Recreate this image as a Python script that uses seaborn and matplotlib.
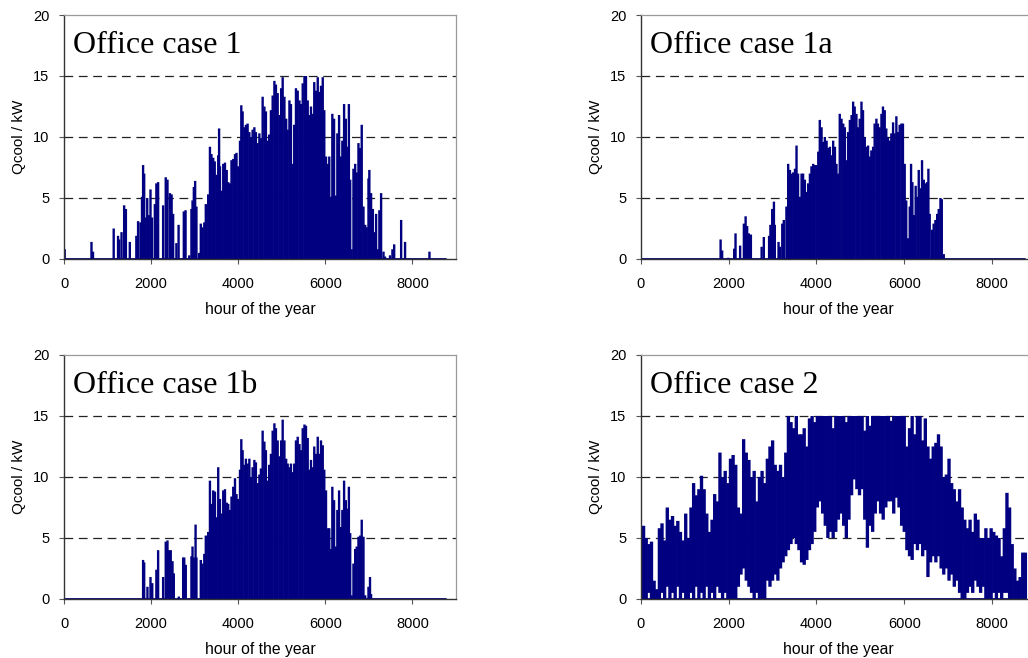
# Cooling load over the year for four office cases

import numpy as np
import matplotlib
matplotlib.use("Agg")
import matplotlib.pyplot as plt
import seaborn as sns

# --- data (hour of year, cooling load in kW) ---

hours_1 = [0, 15, 630, 665, 1140, 1240, 1265, 1320, 1380, 1420, 1510, 1660, 1700, 1755,
           1790, 1815, 1840, 1870, 1910, 1945, 1985, 2020, 2085, 2120, 2160, 2275, 2335,
           2375, 2430, 2470, 2505, 2580, 2630, 2750, 2790, 2875, 2925, 2950, 2980, 3010,
           3040, 3100, 3140, 3180, 3220, 3255, 3310, 3350, 3385, 3425, 3460, 3500, 3540,
           3560, 3580, 3615, 3655, 3695, 3735, 3770, 3810, 3845, 3885, 3925, 3960, 4000,
           4040, 4070, 4100, 4140, 4175, 4215, 4255, 4290, 4330, 4370, 4405, 4445, 4485,
           4520, 4560, 4600, 4635, 4675, 4710, 4750, 4790, 4830, 4865, 4905, 4945, 4985,
           5020, 5060, 5100, 5135, 5175, 5210, 5250, 5285, 5325, 5365, 5405, 5440, 5480,
           5520, 5555, 5595, 5630, 5670, 5710, 5745, 5785, 5825, 5860, 5900, 5940, 5975,
           6015, 6055, 6090, 6130, 6160, 6200, 6240, 6275, 6315, 6355, 6390, 6430, 6470,
           6505, 6540, 6570, 6605, 6645, 6685, 6720, 6760, 6800, 6835, 6875, 6915, 6950,
           6990, 7010, 7050, 7090, 7125, 7165, 7205, 7240, 7280, 7335, 7370, 7485, 7540,
           7580, 7740, 7830, 8390, 8760]
peak_1 = [0.0, 0.8, 1.4, 0.6, 2.5, 1.9, 1.6, 2.2, 4.4, 4.1, 1.4, 1.9, 3.1, 3.0,
          5.1, 7.7, 7.0, 3.4, 5.0, 3.6, 5.7, 3.4, 4.5, 6.2, 6.3, 4.4, 6.7,
          6.5, 5.4, 5.3, 3.7, 1.3, 2.8, 3.9, 4.0, 0.3, 4.1, 4.8, 5.9, 6.4,
          4.3, 0.5, 2.9, 2.6, 3.0, 4.5, 5.3, 9.2, 8.6, 8.3, 8.0, 6.9, 8.5,
          10.7, 7.6, 5.6, 7.8, 7.9, 7.3, 6.3, 6.2, 8.1, 8.2, 8.6, 8.7, 7.6,
          9.7, 12.6, 12.1, 10.8, 11.0, 11.1, 10.4, 10.0, 10.6, 10.8, 10.4, 9.5, 10.3,
          9.9, 13.3, 12.5, 12.1, 9.7, 10.2, 12.2, 13.4, 14.6, 14.3, 13.6, 11.8, 14.0,
          14.9, 13.3, 11.5, 10.6, 13.0, 12.7, 7.8, 11.0, 14.0, 13.8, 13.0, 12.7, 14.4,
          15.0, 15.0, 13.0, 11.8, 12.5, 11.9, 14.5, 13.8, 14.9, 13.7, 14.2, 14.9, 12.2,
          8.4, 7.8, 8.4, 5.1, 11.9, 11.5, 5.2, 10.3, 11.8, 8.4, 9.7, 12.7, 11.5,
          9.2, 12.7, 6.5, 0.8, 7.4, 7.8, 7.1, 9.5, 9.1, 11.0, 4.3, 2.8, 2.6,
          6.6, 7.3, 5.4, 4.1, 2.2, 3.7, 0.8, 4.0, 5.4, 0.6, 0.2, 0.3, 0.8,
          1.2, 3.2, 1.4, 0.6, 0.0]

hours_1a = [0, 1815, 1850, 1990, 2125, 2155, 2260, 2345, 2385, 2420, 2460, 2505, 2750,
            2800, 2920, 2950, 2990, 3030, 3050, 3135, 3165, 3220, 3255, 3315, 3355, 3395,
            3430, 3470, 3510, 3545, 3580, 3620, 3660, 3695, 3735, 3775, 3810, 3850, 3885,
            3925, 3960, 4000, 4040, 4075, 4115, 4150, 4190, 4230, 4265, 4305, 4340, 4380,
            4420, 4455, 4495, 4530, 4570, 4610, 4645, 4685, 4720, 4760, 4800, 4835, 4870,
            4910, 4950, 4985, 5025, 5060, 5100, 5140, 5175, 5215, 5250, 5290, 5325, 5365,
            5400, 5440, 5480, 5515, 5555, 5590, 5630, 5670, 5705, 5745, 5780, 5820, 5860,
            5895, 5935, 5970, 6010, 6045, 6085, 6125, 6155, 6185, 6225, 6260, 6300, 6330,
            6370, 6405, 6445, 6480, 6520, 6550, 6580, 6635, 6670, 6710, 6750, 6785, 6825,
            6855, 6900, 8760]
peak_1a = [0.0, 1.6, 0.7, 0.1, 0.85, 2.1, 1.1, 2.9, 3.5, 2.7, 2.1, 2.0, 1.0,
           1.8, 1.9, 2.8, 4.1, 4.7, 2.8, 1.4, 1.0, 2.9, 3.2, 4.3, 7.8, 7.3,
           7.0, 7.1, 7.4, 9.3, 7.0, 5.1, 7.0, 7.0, 6.5, 5.5, 6.2, 7.0, 7.6,
           7.8, 7.7, 7.7, 8.8, 11.4, 10.8, 9.6, 10.0, 9.7, 9.1, 9.2, 8.5, 9.7,
           9.2, 7.8, 7.0, 11.9, 11.5, 11.1, 10.8, 8.1, 10.4, 11.4, 11.8, 12.9, 12.5,
           11.9, 10.8, 11.5, 12.9, 12.2, 10.0, 9.2, 9.3, 8.4, 8.9, 9.2, 11.1, 11.5,
           11.1, 10.8, 11.9, 12.5, 12.2, 10.7, 10.0, 9.7, 10.3, 11.2, 10.3, 11.7, 10.4,
           11.0, 11.1, 11.1, 7.8, 4.8, 1.7, 4.3, 7.8, 6.3, 3.6, 6.0, 5.1, 7.3,
           5.8, 8.1, 6.5, 6.2, 6.3, 7.4, 3.7, 2.4, 2.9, 3.2, 3.7, 4.1, 5.0,
           4.9, 0.4, 0.0]

hours_1b = [0, 1815, 1840, 1915, 1985, 2025, 2120, 2160, 2275, 2335, 2375, 2415, 2450,
            2490, 2520, 2635, 2735, 2760, 2795, 2925, 2950, 2990, 3020, 3040, 3140, 3180,
            3220, 3255, 3310, 3350, 3385, 3425, 3465, 3500, 3540, 3580, 3615, 3655, 3695,
            3735, 3770, 3810, 3845, 3885, 3925, 3960, 4000, 4040, 4070, 4100, 4140, 4175,
            4215, 4255, 4290, 4330, 4370, 4405, 4445, 4485, 4520, 4560, 4600, 4635, 4675,
            4710, 4750, 4790, 4830, 4865, 4905, 4945, 4985, 5020, 5060, 5100, 5135, 5175,
            5210, 5250, 5285, 5325, 5365, 5405, 5440, 5480, 5520, 5555, 5595, 5630, 5670,
            5710, 5745, 5785, 5825, 5860, 5900, 5940, 5975, 6015, 6055, 6090, 6130, 6160,
            6200, 6240, 6275, 6315, 6355, 6390, 6430, 6470, 6505, 6540, 6570, 6605, 6645,
            6685, 6720, 6760, 6800, 6835, 6875, 6915, 6990, 7025, 7050, 8760]
peak_1b = [0.0, 3.2, 3.0, 1.0, 1.8, 1.3, 2.4, 4.0, 1.8, 4.7, 4.8, 4.0, 4.0,
           3.1, 2.1, 0.2, 3.4, 3.4, 2.8, 3.5, 4.3, 3.4, 6.1, 3.4, 3.2, 2.9,
           3.7, 5.2, 5.5, 9.7, 7.8, 8.9, 8.8, 6.7, 10.8, 8.2, 7.0, 8.9, 9.0,
           7.9, 7.8, 7.3, 8.4, 9.2, 9.9, 8.6, 8.2, 10.6, 13.1, 12.2, 11.0, 11.5,
           11.1, 11.5, 10.0, 10.8, 11.4, 11.2, 9.5, 10.2, 10.7, 13.8, 12.9, 12.2, 9.7,
           11.0, 11.9, 13.8, 14.4, 14.0, 13.0, 11.7, 13.0, 14.7, 13.0, 11.5, 11.1, 10.8,
           11.1, 10.4, 11.1, 13.0, 13.3, 12.7, 12.2, 14.0, 14.3, 14.2, 13.2, 10.6, 11.4,
           10.8, 12.5, 11.9, 13.3, 11.9, 13.0, 12.6, 10.6, 8.9, 5.8, 5.8, 4.1, 9.2,
           8.1, 4.3, 7.3, 8.9, 5.9, 7.3, 9.7, 8.1, 7.4, 9.2, 5.4, 0.3, 2.9,
           4.1, 4.3, 5.1, 5.2, 6.5, 5.1, 0.3, 1.0, 1.8, 0.4, 0.0]

# case 2 never switches off: daily band between a low and a high value, read every 60 h
hours_2 = np.arange(0, 8761, 60)
high_2 = [3.3, 6.0, 5.0, 4.5, 4.7, 1.5, 0.8, 5.8, 6.2, 4.8,
          7.5, 6.5, 6.8, 6.0, 6.4, 5.5, 4.8, 7.0, 5.0, 7.5,
          9.5, 8.5, 9.0, 10.1, 9.0, 7.0, 5.5, 6.5, 8.6, 8.0,
          12.0, 10.0, 10.5, 9.5, 11.5, 11.8, 11.0, 7.5, 7.0, 13.1,
          12.0, 11.4, 10.0, 10.5, 8.0, 10.0, 10.5, 9.5, 11.5, 12.5,
          13.0, 11.0, 10.5, 11.0, 10.0, 12.0, 15.0, 14.5, 14.0, 15.0,
          13.5, 13.5, 14.0, 12.5, 14.8, 15.0, 14.5, 15.0, 15.0, 15.0,
          15.0, 15.0, 15.0, 14.0, 15.0, 15.0, 15.0, 15.0, 14.5, 15.0,
          15.0, 15.0, 15.0, 15.0, 15.0, 13.8, 15.0, 14.2, 15.0, 15.0,
          15.0, 15.0, 15.0, 15.0, 15.0, 14.6, 15.0, 15.0, 15.0, 15.0,
          15.0, 12.5, 14.0, 15.0, 13.5, 15.0, 15.0, 13.0, 14.8, 12.5,
          11.5, 12.5, 12.8, 13.5, 12.5, 10.0, 10.2, 11.5, 9.5, 9.0,
          8.0, 9.0, 7.5, 6.5, 5.8, 6.5, 5.5, 7.0, 6.5, 5.0,
          5.0, 5.8, 5.0, 5.8, 5.5, 5.2, 5.0, 3.5, 5.8, 8.7,
          7.5, 4.5, 2.5, 1.5, 1.8, 3.8, 3.8]
low_2 = [0.0, 0.0, 0.0, 0.5, 0.0, 0.0, 0.0, 0.0, 0.5, 0.0,
         1.0, 0.0, 0.5, 0.0, 1.0, 0.0, 0.5, 0.0, 0.0, 0.5,
         0.0, 1.0, 0.0, 0.5, 0.0, 1.0, 0.0, 0.5, 0.0, 1.0,
         0.5, 0.0, 0.5, 0.0, 0.0, 0.0, 0.0, 1.0, 2.0, 2.5,
         1.5, 1.0, 0.5, 0.0, 0.5, 0.0, 0.0, 0.0, 1.5, 1.0,
         1.5, 2.0, 1.5, 2.5, 3.0, 3.5, 4.0, 4.5, 5.0, 4.5,
         4.0, 3.0, 2.8, 3.2, 4.0, 4.5, 5.5, 7.5, 8.0, 7.0,
         6.0, 5.0, 5.5, 5.0, 5.5, 6.5, 7.0, 6.0, 5.0, 6.5,
         8.5, 9.8, 9.0, 8.5, 9.0, 6.5, 4.2, 6.0, 5.5, 7.0,
         8.0, 7.0, 6.5, 7.5, 8.0, 8.0, 7.0, 8.3, 7.5, 6.0,
         5.5, 4.0, 3.5, 3.2, 4.5, 4.0, 4.5, 3.5, 4.0, 1.8,
         3.0, 3.5, 3.0, 3.5, 2.5, 2.0, 2.5, 1.5, 2.0, 1.0,
         1.5, 0.5, 0.0, 0.0, 0.5, 1.0, 0.5, 1.5, 1.0, 0.5,
         1.0, 0.0, 0.0, 0.0, 0.5, 0.0, 0.5, 0.0, 0.5, 0.5,
         0.0, 0.0, 0.0, 0.0, 0.0, 0.0, 0.0]

titles = ["Office case 1", "Office case 1a", "Office case 1b", "Office case 2"]

LINE = "#000080"

sns.set_theme(style="white")
plt.rcParams["font.family"] = ["Liberation Sans", "DejaVu Sans"]

fig = plt.figure(figsize=(10.28, 6.58), dpi=100)

# panel positions (right column runs a bit past the figure edge, as in the source)
positions = [
    [0.0623, 0.6064, 0.3813, 0.3708],
    [0.6235, 0.6064, 0.3842, 0.3708],
    [0.0623, 0.0897, 0.3813, 0.3708],
    [0.6235, 0.0897, 0.3842, 0.3708],
]
series = [
    (hours_1, np.zeros(len(peak_1)), peak_1, 1.7),
    (hours_1a, np.zeros(len(peak_1a)), peak_1a, 1.7),
    (hours_1b, np.zeros(len(peak_1b)), peak_1b, 1.7),
    (hours_2, low_2, high_2, 2.4),
]

for pos, (hrs, lo, hi, lw), title in zip(positions, series, titles):
    ax = fig.add_axes(pos)
    ax.set_axisbelow(True)

    # zero line across the year, then one stroke per sampled day
    sns.lineplot(x=[hrs[0], hrs[-1]], y=[0, 0], ax=ax, color=LINE, lw=1.3)
    strokes = ax.vlines(hrs, lo, hi, color=LINE, lw=lw, capstyle="butt")
    strokes.set_snap(False)

    ax.set_xlim(0, 9000)
    ax.set_ylim(0, 20)
    ax.set_xticks(range(0, 8001, 2000))
    ax.set_yticks(range(0, 21, 5))

    for y in (5, 10, 15):
        ax.axhline(y, color="#222222", lw=0.9, ls=(0, (7, 4.5)), zorder=0)

    for side in ("left", "bottom"):
        ax.spines[side].set_color("#333333")
        ax.spines[side].set_linewidth(1.0)
    for side in ("top", "right"):
        ax.spines[side].set_color("#9a9a9a")
        ax.spines[side].set_linewidth(0.9)

    ax.tick_params(bottom=True, left=True, direction="out", length=3.6, width=0.8,
                   color="#555555", labelsize=10.5, labelcolor="black")
    ax.tick_params(axis="x", pad=9.5)
    ax.tick_params(axis="y", pad=7)
    ax.set_xlabel("hour of the year", fontsize=11.3, labelpad=8, color="black")
    ax.set_ylabel("Qcool / kW", fontsize=11, labelpad=5, color="black")

    ax.text(0.023, 0.844, title, transform=ax.transAxes, fontsize=23,
            family=["Liberation Serif", "DejaVu Serif"], va="baseline", color="black")

fig.savefig("out.png", dpi=100)
